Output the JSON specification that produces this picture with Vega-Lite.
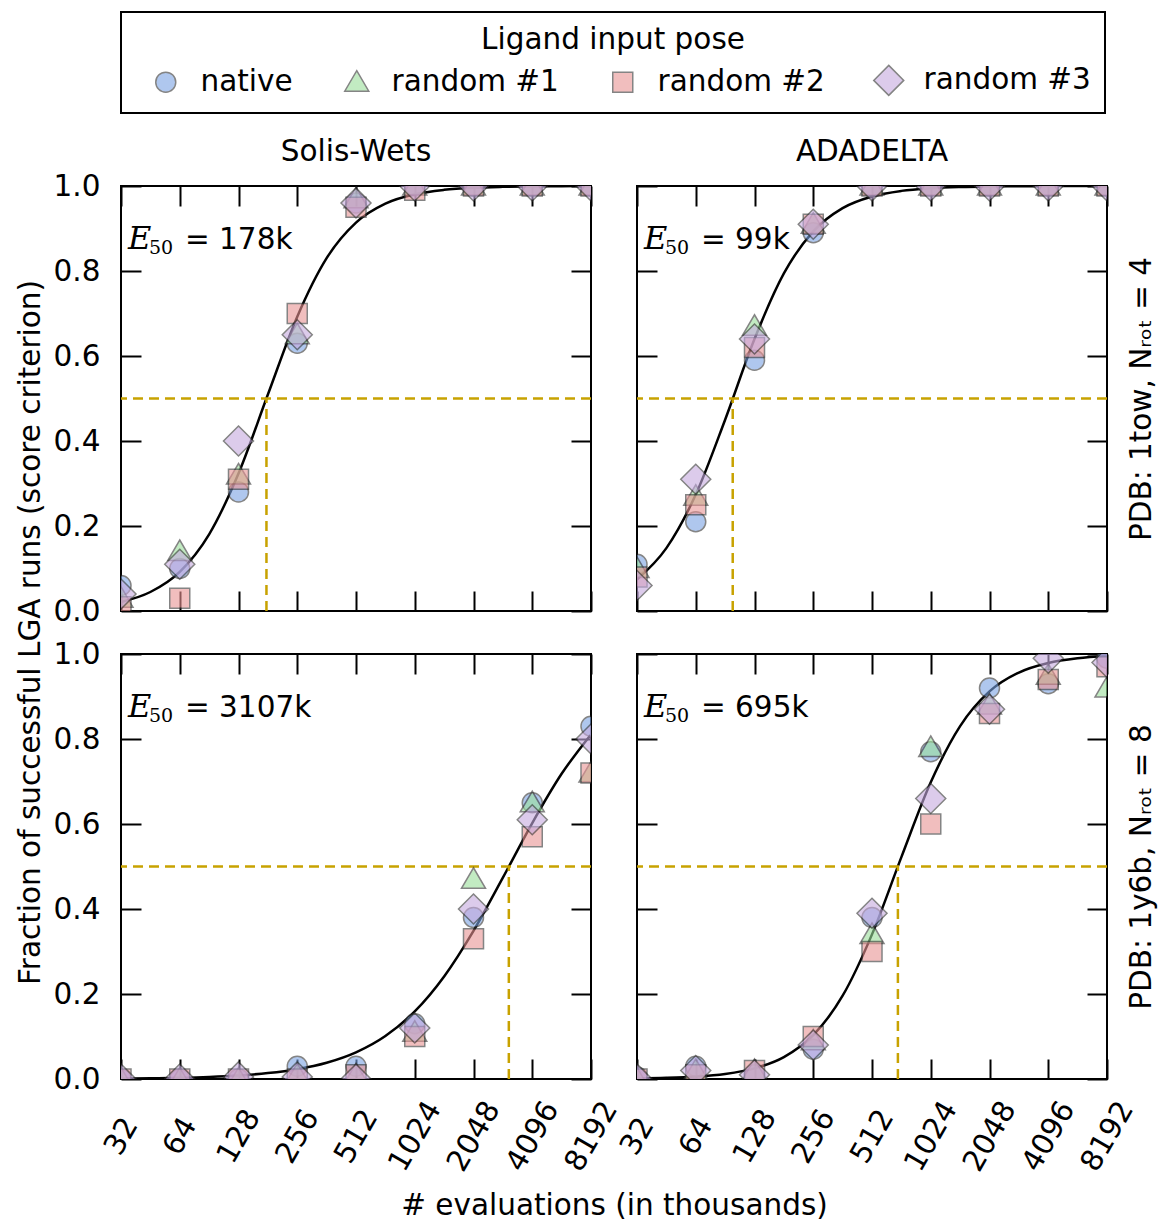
{
  "$schema": "https://vega.github.io/schema/vega-lite/v6.json",
  "autosize": {"type": "pad"},
  "padding": {"left": 14, "top": 11, "right": 4, "bottom": 0},
  "background": "white",
  "config": {
    "font": "DejaVu Sans",
    "view": {"stroke": "black", "strokeWidth": 2},
    "axis": {
      "domain": false, "grid": false, "tickColor": "black", "tickWidth": 2, "tickSize": -20,
      "labelFont": "DejaVu Sans", "labelFontSize": 29.5, "labelColor": "black", "labelPadding": 41,
      "labelFlush": false, "labelOverlap": false,
      "titleFont": "DejaVu Sans", "titleFontSize": 29.5, "titleFontWeight": "normal", "titleColor": "black"
    },
    "title": {"font": "DejaVu Sans", "fontSize": 29.5, "fontWeight": "normal", "color": "black"},
    "legend": {
      "orient": "top", "direction": "horizontal", "titleAnchor": "middle", "titleLimit": 0, "labelLimit": 0,
      "titleFont": "DejaVu Sans", "titleFontSize": 29.5, "titleFontWeight": "normal", "titleColor": "black",
      "labelFont": "DejaVu Sans", "labelFontSize": 29.5, "labelColor": "black",
      "strokeColor": "black", "strokeWidth": 2, "padding": 14, "columnPadding": 33, "labelOffset": 20, "symbolOffset": 16,
      "symbolSize": 400, "symbolOpacity": 0.6, "symbolStrokeColor": "#333333", "symbolStrokeWidth": 1.5,
      "titlePadding": 10, "offset": 22
    }
  },
  "datasets": {
    "pts": [
      {"alg":"Solis-Wets","pdb":"1tow","evals":32,"frac":0.06,"pose":"native"},
      {"alg":"Solis-Wets","pdb":"1tow","evals":32,"frac":0.03,"pose":"random #1"},
      {"alg":"Solis-Wets","pdb":"1tow","evals":32,"frac":0.01,"pose":"random #2"},
      {"alg":"Solis-Wets","pdb":"1tow","evals":32,"frac":0.04,"pose":"random #3"},
      {"alg":"Solis-Wets","pdb":"1tow","evals":64,"frac":0.10,"pose":"native"},
      {"alg":"Solis-Wets","pdb":"1tow","evals":64,"frac":0.14,"pose":"random #1"},
      {"alg":"Solis-Wets","pdb":"1tow","evals":64,"frac":0.03,"pose":"random #2"},
      {"alg":"Solis-Wets","pdb":"1tow","evals":64,"frac":0.11,"pose":"random #3"},
      {"alg":"Solis-Wets","pdb":"1tow","evals":128,"frac":0.28,"pose":"native"},
      {"alg":"Solis-Wets","pdb":"1tow","evals":128,"frac":0.32,"pose":"random #1"},
      {"alg":"Solis-Wets","pdb":"1tow","evals":128,"frac":0.31,"pose":"random #2"},
      {"alg":"Solis-Wets","pdb":"1tow","evals":128,"frac":0.40,"pose":"random #3"},
      {"alg":"Solis-Wets","pdb":"1tow","evals":256,"frac":0.63,"pose":"native"},
      {"alg":"Solis-Wets","pdb":"1tow","evals":256,"frac":0.65,"pose":"random #1"},
      {"alg":"Solis-Wets","pdb":"1tow","evals":256,"frac":0.70,"pose":"random #2"},
      {"alg":"Solis-Wets","pdb":"1tow","evals":256,"frac":0.65,"pose":"random #3"},
      {"alg":"Solis-Wets","pdb":"1tow","evals":512,"frac":0.96,"pose":"native"},
      {"alg":"Solis-Wets","pdb":"1tow","evals":512,"frac":0.97,"pose":"random #1"},
      {"alg":"Solis-Wets","pdb":"1tow","evals":512,"frac":0.95,"pose":"random #2"},
      {"alg":"Solis-Wets","pdb":"1tow","evals":512,"frac":0.96,"pose":"random #3"},
      {"alg":"Solis-Wets","pdb":"1tow","evals":1024,"frac":1.0,"pose":"native"},
      {"alg":"Solis-Wets","pdb":"1tow","evals":1024,"frac":1.0,"pose":"random #1"},
      {"alg":"Solis-Wets","pdb":"1tow","evals":1024,"frac":0.99,"pose":"random #2"},
      {"alg":"Solis-Wets","pdb":"1tow","evals":1024,"frac":1.0,"pose":"random #3"},
      {"alg":"Solis-Wets","pdb":"1tow","evals":2048,"frac":1.0,"pose":"native"},
      {"alg":"Solis-Wets","pdb":"1tow","evals":2048,"frac":1.0,"pose":"random #1"},
      {"alg":"Solis-Wets","pdb":"1tow","evals":2048,"frac":1.0,"pose":"random #2"},
      {"alg":"Solis-Wets","pdb":"1tow","evals":2048,"frac":1.0,"pose":"random #3"},
      {"alg":"Solis-Wets","pdb":"1tow","evals":4096,"frac":1.0,"pose":"native"},
      {"alg":"Solis-Wets","pdb":"1tow","evals":4096,"frac":1.0,"pose":"random #1"},
      {"alg":"Solis-Wets","pdb":"1tow","evals":4096,"frac":1.0,"pose":"random #2"},
      {"alg":"Solis-Wets","pdb":"1tow","evals":4096,"frac":1.0,"pose":"random #3"},
      {"alg":"Solis-Wets","pdb":"1tow","evals":8192,"frac":1.0,"pose":"native"},
      {"alg":"Solis-Wets","pdb":"1tow","evals":8192,"frac":1.0,"pose":"random #1"},
      {"alg":"Solis-Wets","pdb":"1tow","evals":8192,"frac":1.0,"pose":"random #2"},
      {"alg":"Solis-Wets","pdb":"1tow","evals":8192,"frac":1.0,"pose":"random #3"},

      {"alg":"ADADELTA","pdb":"1tow","evals":32,"frac":0.11,"pose":"native"},
      {"alg":"ADADELTA","pdb":"1tow","evals":32,"frac":0.10,"pose":"random #1"},
      {"alg":"ADADELTA","pdb":"1tow","evals":32,"frac":0.08,"pose":"random #2"},
      {"alg":"ADADELTA","pdb":"1tow","evals":32,"frac":0.06,"pose":"random #3"},
      {"alg":"ADADELTA","pdb":"1tow","evals":64,"frac":0.21,"pose":"native"},
      {"alg":"ADADELTA","pdb":"1tow","evals":64,"frac":0.27,"pose":"random #1"},
      {"alg":"ADADELTA","pdb":"1tow","evals":64,"frac":0.25,"pose":"random #2"},
      {"alg":"ADADELTA","pdb":"1tow","evals":64,"frac":0.31,"pose":"random #3"},
      {"alg":"ADADELTA","pdb":"1tow","evals":128,"frac":0.59,"pose":"native"},
      {"alg":"ADADELTA","pdb":"1tow","evals":128,"frac":0.67,"pose":"random #1"},
      {"alg":"ADADELTA","pdb":"1tow","evals":128,"frac":0.62,"pose":"random #2"},
      {"alg":"ADADELTA","pdb":"1tow","evals":128,"frac":0.64,"pose":"random #3"},
      {"alg":"ADADELTA","pdb":"1tow","evals":256,"frac":0.89,"pose":"native"},
      {"alg":"ADADELTA","pdb":"1tow","evals":256,"frac":0.91,"pose":"random #1"},
      {"alg":"ADADELTA","pdb":"1tow","evals":256,"frac":0.91,"pose":"random #2"},
      {"alg":"ADADELTA","pdb":"1tow","evals":256,"frac":0.91,"pose":"random #3"},
      {"alg":"ADADELTA","pdb":"1tow","evals":512,"frac":1.0,"pose":"native"},
      {"alg":"ADADELTA","pdb":"1tow","evals":512,"frac":1.0,"pose":"random #1"},
      {"alg":"ADADELTA","pdb":"1tow","evals":512,"frac":1.0,"pose":"random #2"},
      {"alg":"ADADELTA","pdb":"1tow","evals":512,"frac":1.0,"pose":"random #3"},
      {"alg":"ADADELTA","pdb":"1tow","evals":1024,"frac":1.0,"pose":"native"},
      {"alg":"ADADELTA","pdb":"1tow","evals":1024,"frac":1.0,"pose":"random #1"},
      {"alg":"ADADELTA","pdb":"1tow","evals":1024,"frac":1.0,"pose":"random #2"},
      {"alg":"ADADELTA","pdb":"1tow","evals":1024,"frac":1.0,"pose":"random #3"},
      {"alg":"ADADELTA","pdb":"1tow","evals":2048,"frac":1.0,"pose":"native"},
      {"alg":"ADADELTA","pdb":"1tow","evals":2048,"frac":1.0,"pose":"random #1"},
      {"alg":"ADADELTA","pdb":"1tow","evals":2048,"frac":1.0,"pose":"random #2"},
      {"alg":"ADADELTA","pdb":"1tow","evals":2048,"frac":1.0,"pose":"random #3"},
      {"alg":"ADADELTA","pdb":"1tow","evals":4096,"frac":1.0,"pose":"native"},
      {"alg":"ADADELTA","pdb":"1tow","evals":4096,"frac":1.0,"pose":"random #1"},
      {"alg":"ADADELTA","pdb":"1tow","evals":4096,"frac":1.0,"pose":"random #2"},
      {"alg":"ADADELTA","pdb":"1tow","evals":4096,"frac":1.0,"pose":"random #3"},
      {"alg":"ADADELTA","pdb":"1tow","evals":8192,"frac":1.0,"pose":"native"},
      {"alg":"ADADELTA","pdb":"1tow","evals":8192,"frac":1.0,"pose":"random #1"},
      {"alg":"ADADELTA","pdb":"1tow","evals":8192,"frac":1.0,"pose":"random #2"},
      {"alg":"ADADELTA","pdb":"1tow","evals":8192,"frac":1.0,"pose":"random #3"},

      {"alg":"Solis-Wets","pdb":"1y6b","evals":32,"frac":0.0,"pose":"native"},
      {"alg":"Solis-Wets","pdb":"1y6b","evals":32,"frac":0.0,"pose":"random #1"},
      {"alg":"Solis-Wets","pdb":"1y6b","evals":32,"frac":0.0,"pose":"random #2"},
      {"alg":"Solis-Wets","pdb":"1y6b","evals":32,"frac":0.0,"pose":"random #3"},
      {"alg":"Solis-Wets","pdb":"1y6b","evals":64,"frac":0.0,"pose":"native"},
      {"alg":"Solis-Wets","pdb":"1y6b","evals":64,"frac":0.0,"pose":"random #1"},
      {"alg":"Solis-Wets","pdb":"1y6b","evals":64,"frac":0.0,"pose":"random #2"},
      {"alg":"Solis-Wets","pdb":"1y6b","evals":64,"frac":0.0,"pose":"random #3"},
      {"alg":"Solis-Wets","pdb":"1y6b","evals":128,"frac":0.0,"pose":"native"},
      {"alg":"Solis-Wets","pdb":"1y6b","evals":128,"frac":0.0,"pose":"random #1"},
      {"alg":"Solis-Wets","pdb":"1y6b","evals":128,"frac":0.0,"pose":"random #2"},
      {"alg":"Solis-Wets","pdb":"1y6b","evals":128,"frac":0.005,"pose":"random #3"},
      {"alg":"Solis-Wets","pdb":"1y6b","evals":256,"frac":0.03,"pose":"native"},
      {"alg":"Solis-Wets","pdb":"1y6b","evals":256,"frac":0.01,"pose":"random #1"},
      {"alg":"Solis-Wets","pdb":"1y6b","evals":256,"frac":0.0,"pose":"random #2"},
      {"alg":"Solis-Wets","pdb":"1y6b","evals":256,"frac":0.005,"pose":"random #3"},
      {"alg":"Solis-Wets","pdb":"1y6b","evals":512,"frac":0.03,"pose":"native"},
      {"alg":"Solis-Wets","pdb":"1y6b","evals":512,"frac":0.01,"pose":"random #1"},
      {"alg":"Solis-Wets","pdb":"1y6b","evals":512,"frac":0.01,"pose":"random #2"},
      {"alg":"Solis-Wets","pdb":"1y6b","evals":512,"frac":0.0,"pose":"random #3"},
      {"alg":"Solis-Wets","pdb":"1y6b","evals":1024,"frac":0.13,"pose":"native"},
      {"alg":"Solis-Wets","pdb":"1y6b","evals":1024,"frac":0.11,"pose":"random #1"},
      {"alg":"Solis-Wets","pdb":"1y6b","evals":1024,"frac":0.10,"pose":"random #2"},
      {"alg":"Solis-Wets","pdb":"1y6b","evals":1024,"frac":0.12,"pose":"random #3"},
      {"alg":"Solis-Wets","pdb":"1y6b","evals":2048,"frac":0.38,"pose":"native"},
      {"alg":"Solis-Wets","pdb":"1y6b","evals":2048,"frac":0.47,"pose":"random #1"},
      {"alg":"Solis-Wets","pdb":"1y6b","evals":2048,"frac":0.33,"pose":"random #2"},
      {"alg":"Solis-Wets","pdb":"1y6b","evals":2048,"frac":0.40,"pose":"random #3"},
      {"alg":"Solis-Wets","pdb":"1y6b","evals":4096,"frac":0.65,"pose":"native"},
      {"alg":"Solis-Wets","pdb":"1y6b","evals":4096,"frac":0.65,"pose":"random #1"},
      {"alg":"Solis-Wets","pdb":"1y6b","evals":4096,"frac":0.57,"pose":"random #2"},
      {"alg":"Solis-Wets","pdb":"1y6b","evals":4096,"frac":0.61,"pose":"random #3"},
      {"alg":"Solis-Wets","pdb":"1y6b","evals":8192,"frac":0.83,"pose":"native"},
      {"alg":"Solis-Wets","pdb":"1y6b","evals":8192,"frac":0.72,"pose":"random #1"},
      {"alg":"Solis-Wets","pdb":"1y6b","evals":8192,"frac":0.72,"pose":"random #2"},
      {"alg":"Solis-Wets","pdb":"1y6b","evals":8192,"frac":0.80,"pose":"random #3"},

      {"alg":"ADADELTA","pdb":"1y6b","evals":32,"frac":0.005,"pose":"native"},
      {"alg":"ADADELTA","pdb":"1y6b","evals":32,"frac":0.0,"pose":"random #1"},
      {"alg":"ADADELTA","pdb":"1y6b","evals":32,"frac":0.0,"pose":"random #2"},
      {"alg":"ADADELTA","pdb":"1y6b","evals":32,"frac":0.0,"pose":"random #3"},
      {"alg":"ADADELTA","pdb":"1y6b","evals":64,"frac":0.03,"pose":"native"},
      {"alg":"ADADELTA","pdb":"1y6b","evals":64,"frac":0.02,"pose":"random #1"},
      {"alg":"ADADELTA","pdb":"1y6b","evals":64,"frac":0.01,"pose":"random #2"},
      {"alg":"ADADELTA","pdb":"1y6b","evals":64,"frac":0.02,"pose":"random #3"},
      {"alg":"ADADELTA","pdb":"1y6b","evals":128,"frac":0.01,"pose":"native"},
      {"alg":"ADADELTA","pdb":"1y6b","evals":128,"frac":0.02,"pose":"random #1"},
      {"alg":"ADADELTA","pdb":"1y6b","evals":128,"frac":0.02,"pose":"random #2"},
      {"alg":"ADADELTA","pdb":"1y6b","evals":128,"frac":0.01,"pose":"random #3"},
      {"alg":"ADADELTA","pdb":"1y6b","evals":256,"frac":0.07,"pose":"native"},
      {"alg":"ADADELTA","pdb":"1y6b","evals":256,"frac":0.09,"pose":"random #1"},
      {"alg":"ADADELTA","pdb":"1y6b","evals":256,"frac":0.10,"pose":"random #2"},
      {"alg":"ADADELTA","pdb":"1y6b","evals":256,"frac":0.08,"pose":"random #3"},
      {"alg":"ADADELTA","pdb":"1y6b","evals":512,"frac":0.38,"pose":"native"},
      {"alg":"ADADELTA","pdb":"1y6b","evals":512,"frac":0.34,"pose":"random #1"},
      {"alg":"ADADELTA","pdb":"1y6b","evals":512,"frac":0.30,"pose":"random #2"},
      {"alg":"ADADELTA","pdb":"1y6b","evals":512,"frac":0.39,"pose":"random #3"},
      {"alg":"ADADELTA","pdb":"1y6b","evals":1024,"frac":0.77,"pose":"native"},
      {"alg":"ADADELTA","pdb":"1y6b","evals":1024,"frac":0.78,"pose":"random #1"},
      {"alg":"ADADELTA","pdb":"1y6b","evals":1024,"frac":0.60,"pose":"random #2"},
      {"alg":"ADADELTA","pdb":"1y6b","evals":1024,"frac":0.66,"pose":"random #3"},
      {"alg":"ADADELTA","pdb":"1y6b","evals":2048,"frac":0.92,"pose":"native"},
      {"alg":"ADADELTA","pdb":"1y6b","evals":2048,"frac":0.88,"pose":"random #1"},
      {"alg":"ADADELTA","pdb":"1y6b","evals":2048,"frac":0.86,"pose":"random #2"},
      {"alg":"ADADELTA","pdb":"1y6b","evals":2048,"frac":0.87,"pose":"random #3"},
      {"alg":"ADADELTA","pdb":"1y6b","evals":4096,"frac":0.93,"pose":"native"},
      {"alg":"ADADELTA","pdb":"1y6b","evals":4096,"frac":0.95,"pose":"random #1"},
      {"alg":"ADADELTA","pdb":"1y6b","evals":4096,"frac":0.94,"pose":"random #2"},
      {"alg":"ADADELTA","pdb":"1y6b","evals":4096,"frac":0.99,"pose":"random #3"},
      {"alg":"ADADELTA","pdb":"1y6b","evals":8192,"frac":0.99,"pose":"native"},
      {"alg":"ADADELTA","pdb":"1y6b","evals":8192,"frac":0.92,"pose":"random #1"},
      {"alg":"ADADELTA","pdb":"1y6b","evals":8192,"frac":0.97,"pose":"random #2"},
      {"alg":"ADADELTA","pdb":"1y6b","evals":8192,"frac":0.98,"pose":"random #3"}
    ],
    "curve": [
      {"alg":"Solis-Wets","pdb":"1tow","evals":32,"frac":0.0211},
      {"alg":"Solis-Wets","pdb":"1tow","evals":45.25,"frac":0.0447},
      {"alg":"Solis-Wets","pdb":"1tow","evals":64,"frac":0.0921},
      {"alg":"Solis-Wets","pdb":"1tow","evals":90.51,"frac":0.1805},
      {"alg":"Solis-Wets","pdb":"1tow","evals":128,"frac":0.3234},
      {"alg":"Solis-Wets","pdb":"1tow","evals":181.02,"frac":0.5093},
      {"alg":"Solis-Wets","pdb":"1tow","evals":256,"frac":0.6925},
      {"alg":"Solis-Wets","pdb":"1tow","evals":362.04,"frac":0.8302},
      {"alg":"Solis-Wets","pdb":"1tow","evals":512,"frac":0.9139},
      {"alg":"Solis-Wets","pdb":"1tow","evals":724.08,"frac":0.9584},
      {"alg":"Solis-Wets","pdb":"1tow","evals":1024,"frac":0.9804},
      {"alg":"Solis-Wets","pdb":"1tow","evals":1448.15,"frac":0.9909},
      {"alg":"Solis-Wets","pdb":"1tow","evals":2048,"frac":0.9958},
      {"alg":"Solis-Wets","pdb":"1tow","evals":2896.31,"frac":0.9980},
      {"alg":"Solis-Wets","pdb":"1tow","evals":4096,"frac":0.9991},
      {"alg":"Solis-Wets","pdb":"1tow","evals":5792.62,"frac":0.9996},
      {"alg":"Solis-Wets","pdb":"1tow","evals":8192,"frac":0.9998},
      {"alg":"ADADELTA","pdb":"1tow","evals":32,"frac":0.0741},
      {"alg":"ADADELTA","pdb":"1tow","evals":45.25,"frac":0.1480},
      {"alg":"ADADELTA","pdb":"1tow","evals":64,"frac":0.2739},
      {"alg":"ADADELTA","pdb":"1tow","evals":90.51,"frac":0.4501},
      {"alg":"ADADELTA","pdb":"1tow","evals":128,"frac":0.6399},
      {"alg":"ADADELTA","pdb":"1tow","evals":181.02,"frac":0.7942},
      {"alg":"ADADELTA","pdb":"1tow","evals":256,"frac":0.8933},
      {"alg":"ADADELTA","pdb":"1tow","evals":362.04,"frac":0.9479},
      {"alg":"ADADELTA","pdb":"1tow","evals":512,"frac":0.9753},
      {"alg":"ADADELTA","pdb":"1tow","evals":724.08,"frac":0.9885},
      {"alg":"ADADELTA","pdb":"1tow","evals":1024,"frac":0.9946},
      {"alg":"ADADELTA","pdb":"1tow","evals":1448.15,"frac":0.9975},
      {"alg":"ADADELTA","pdb":"1tow","evals":2048,"frac":0.9989},
      {"alg":"ADADELTA","pdb":"1tow","evals":2896.31,"frac":0.9995},
      {"alg":"ADADELTA","pdb":"1tow","evals":4096,"frac":0.9998},
      {"alg":"ADADELTA","pdb":"1tow","evals":5792.62,"frac":0.9999},
      {"alg":"ADADELTA","pdb":"1tow","evals":8192,"frac":1.0},
      {"alg":"Solis-Wets","pdb":"1y6b","evals":32,"frac":0.00104},
      {"alg":"Solis-Wets","pdb":"1y6b","evals":45.25,"frac":0.00175},
      {"alg":"Solis-Wets","pdb":"1y6b","evals":64,"frac":0.00294},
      {"alg":"Solis-Wets","pdb":"1y6b","evals":90.51,"frac":0.00494},
      {"alg":"Solis-Wets","pdb":"1y6b","evals":128,"frac":0.00828},
      {"alg":"Solis-Wets","pdb":"1y6b","evals":181.02,"frac":0.01386},
      {"alg":"Solis-Wets","pdb":"1y6b","evals":256,"frac":0.02309},
      {"alg":"Solis-Wets","pdb":"1y6b","evals":362.04,"frac":0.03824},
      {"alg":"Solis-Wets","pdb":"1y6b","evals":512,"frac":0.0627},
      {"alg":"Solis-Wets","pdb":"1y6b","evals":724.08,"frac":0.1011},
      {"alg":"Solis-Wets","pdb":"1y6b","evals":1024,"frac":0.1591},
      {"alg":"Solis-Wets","pdb":"1y6b","evals":1448.15,"frac":0.2414},
      {"alg":"Solis-Wets","pdb":"1y6b","evals":2048,"frac":0.3487},
      {"alg":"Solis-Wets","pdb":"1y6b","evals":2896.31,"frac":0.4737},
      {"alg":"Solis-Wets","pdb":"1y6b","evals":4096,"frac":0.6023},
      {"alg":"Solis-Wets","pdb":"1y6b","evals":5792.62,"frac":0.7181},
      {"alg":"Solis-Wets","pdb":"1y6b","evals":8192,"frac":0.8108},
      {"alg":"ADADELTA","pdb":"1y6b","evals":32,"frac":0.00128},
      {"alg":"ADADELTA","pdb":"1y6b","evals":45.25,"frac":0.0027},
      {"alg":"ADADELTA","pdb":"1y6b","evals":64,"frac":0.0057},
      {"alg":"ADADELTA","pdb":"1y6b","evals":90.51,"frac":0.01199},
      {"alg":"ADADELTA","pdb":"1y6b","evals":128,"frac":0.02504},
      {"alg":"ADADELTA","pdb":"1y6b","evals":181.02,"frac":0.0516},
      {"alg":"ADADELTA","pdb":"1y6b","evals":256,"frac":0.1032},
      {"alg":"ADADELTA","pdb":"1y6b","evals":362.04,"frac":0.1959},
      {"alg":"ADADELTA","pdb":"1y6b","evals":512,"frac":0.3403},
      {"alg":"ADADELTA","pdb":"1y6b","evals":724.08,"frac":0.5221},
      {"alg":"ADADELTA","pdb":"1y6b","evals":1024,"frac":0.6981},
      {"alg":"ADADELTA","pdb":"1y6b","evals":1448.15,"frac":0.8304},
      {"alg":"ADADELTA","pdb":"1y6b","evals":2048,"frac":0.9120},
      {"alg":"ADADELTA","pdb":"1y6b","evals":2896.31,"frac":0.9564},
      {"alg":"ADADELTA","pdb":"1y6b","evals":4096,"frac":0.9789},
      {"alg":"ADADELTA","pdb":"1y6b","evals":5792.62,"frac":0.9899},
      {"alg":"ADADELTA","pdb":"1y6b","evals":8192,"frac":0.9952}
    ],
    "e50": [
      {"alg":"Solis-Wets","pdb":"1tow","evals":178,"label":"= 178k"},
      {"alg":"ADADELTA","pdb":"1tow","evals":99,"label":"= 99k"},
      {"alg":"Solis-Wets","pdb":"1y6b","evals":3107,"label":"= 3107k"},
      {"alg":"ADADELTA","pdb":"1y6b","evals":695,"label":"= 695k"}
    ]
  },
  "bounds": "flush",
  "columns": 2,
  "spacing": {"row": 43, "column": 46},
  "concat": [
    {
      "width": 470, "height": 425,
      "title": {"text": "Solis-Wets", "offset": 4},
      "resolve": {"axis": {"x": "independent", "y": "independent"}},
      "layer": [
        {
          "data": {"name": "curve"},
          "transform": [{"filter": "datum.alg === 'Solis-Wets' && datum.pdb === '1tow'"}],
          "mark": {"type": "line", "color": "black", "strokeWidth": 2.5, "interpolate": "monotone", "clip": true},
          "encoding": {
            "x": {"field": "evals", "type": "quantitative", "scale": {"type": "log", "base": 2, "domain": [32, 8192], "nice": false},
                  "axis": {"orient": "bottom", "values": [32,64,128,256,512,1024,2048,4096,8192], "labels": false, "title": null}},
            "y": {"field": "frac", "type": "quantitative", "scale": {"domain": [0, 1], "nice": false},
                  "axis": {"orient": "left", "values": [0,0.2,0.4,0.6,0.8,1], "format": ".1f", "title": "Fraction of successful LGA runs (score criterion)", "titleY": 446, "titlePadding": 8}}
          }
        },
        {
          "data": {"name": "e50"},
          "transform": [{"filter": "datum.alg === 'Solis-Wets' && datum.pdb === '1tow'"}],
          "mark": {"type": "rule", "color": "#c8a200", "strokeWidth": 2.5, "strokeDash": [10, 6]},
          "encoding": {
            "y": {"datum": 0.5, "type": "quantitative", "axis": {"orient": "right", "values": [0,0.2,0.4,0.6,0.8,1], "labels": false, "title": null}}
          }
        },
        {
          "data": {"name": "e50"},
          "transform": [{"filter": "datum.alg === 'Solis-Wets' && datum.pdb === '1tow'"}],
          "mark": {"type": "rule", "color": "#c8a200", "strokeWidth": 2.5, "strokeDash": [10, 6]},
          "encoding": {
            "x": {"field": "evals", "type": "quantitative", "axis": {"orient": "top", "values": [32,64,128,256,512,1024,2048,4096,8192], "labels": false, "title": null}},
            "y": {"datum": 0, "type": "quantitative", "axis": null},
            "y2": {"datum": 0.5}
          }
        },
        {
          "data": {"name": "pts"},
          "transform": [{"filter": "datum.alg === 'Solis-Wets' && datum.pdb === '1tow'"}],
          "mark": {"type": "point", "filled": true, "size": 400, "stroke": "#333333", "strokeWidth": 1.5, "opacity": 0.6, "clip": true},
          "encoding": {
            "x": {"field": "evals", "type": "quantitative", "axis": null},
            "y": {"field": "frac", "type": "quantitative", "axis": null},
            "fill": {"field": "pose", "type": "nominal", "title": "Ligand input pose",
                     "scale": {"domain": ["native", "random #1", "random #2", "random #3"], "range": ["#7ba3e3", "#9bdf9b", "#e99393", "#c5aadf"]},
                     "legend": {"encode": {"symbols": {"update": {"stroke": {"value": "#333333"}, "strokeWidth": {"value": 1.5}, "opacity": {"value": 0.6}}}}}},
            "shape": {"field": "pose", "type": "nominal", "title": "Ligand input pose",
                      "scale": {"domain": ["native", "random #1", "random #2", "random #3"], "range": ["circle", "M0,-1.15L1.2,0.9L-1.2,0.9Z", "square", "M0,-1.5L1.5,0L0,1.5L-1.5,0Z"]}}
          }
        },
        {
          "data": {"name": "e50"},
          "transform": [{"filter": "datum.alg === 'Solis-Wets' && datum.pdb === '1tow'"}],
          "mark": {"type": "text", "text": "E", "font": "DejaVu Serif", "fontStyle": "italic", "fontSize": 32, "align": "left", "baseline": "alphabetic", "dx": 7, "color": "black"},
          "encoding": {"x": {"datum": 32, "type": "quantitative", "axis": null}, "y": {"datum": 0.852, "type": "quantitative", "axis": null}}
        },
        {
          "data": {"name": "e50"},
          "transform": [{"filter": "datum.alg === 'Solis-Wets' && datum.pdb === '1tow'"}],
          "mark": {"type": "text", "text": "50", "font": "DejaVu Serif", "fontSize": 19, "align": "left", "baseline": "alphabetic", "dx": 28, "dy": 5, "color": "black"},
          "encoding": {"x": {"datum": 32, "type": "quantitative", "axis": null}, "y": {"datum": 0.852, "type": "quantitative", "axis": null}}
        },
        {
          "data": {"name": "e50"},
          "transform": [{"filter": "datum.alg === 'Solis-Wets' && datum.pdb === '1tow'"}],
          "mark": {"type": "text", "font": "DejaVu Sans", "fontSize": 29.5, "align": "left", "baseline": "alphabetic", "dx": 64, "color": "black"},
          "encoding": {"x": {"datum": 32, "type": "quantitative", "axis": null}, "y": {"datum": 0.852, "type": "quantitative", "axis": null}, "text": {"field": "label"}}
        }
      ]
    },
    {
      "width": 470, "height": 425,
      "title": {"text": "ADADELTA", "offset": 18},
      "resolve": {"axis": {"x": "independent", "y": "independent"}},
      "layer": [
        {
          "data": {"name": "curve"},
          "transform": [{"filter": "datum.alg === 'ADADELTA' && datum.pdb === '1tow'"}],
          "mark": {"type": "line", "color": "black", "strokeWidth": 2.5, "interpolate": "monotone", "clip": true},
          "encoding": {
            "x": {"field": "evals", "type": "quantitative", "scale": {"type": "log", "base": 2, "domain": [32, 8192], "nice": false},
                  "axis": {"orient": "bottom", "values": [32,64,128,256,512,1024,2048,4096,8192], "labels": false, "title": null}},
            "y": {"field": "frac", "type": "quantitative", "scale": {"domain": [0, 1], "nice": false},
                  "axis": {"orient": "left", "values": [0,0.2,0.4,0.6,0.8,1], "labels": false, "title": null}}
          }
        },
        {
          "data": {"name": "e50"},
          "transform": [{"filter": "datum.alg === 'ADADELTA' && datum.pdb === '1tow'"}],
          "mark": {"type": "rule", "color": "#c8a200", "strokeWidth": 2.5, "strokeDash": [10, 6]},
          "encoding": {
            "y": {"datum": 0.5, "type": "quantitative", "axis": {"orient": "right", "values": [0,0.2,0.4,0.6,0.8,1], "labels": false, "title": "PDB: 1tow, Nᵣₒₜ = 4", "titleAngle": 270, "titlePadding": 48}}
          }
        },
        {
          "data": {"name": "e50"},
          "transform": [{"filter": "datum.alg === 'ADADELTA' && datum.pdb === '1tow'"}],
          "mark": {"type": "rule", "color": "#c8a200", "strokeWidth": 2.5, "strokeDash": [10, 6]},
          "encoding": {
            "x": {"field": "evals", "type": "quantitative", "axis": {"orient": "top", "values": [32,64,128,256,512,1024,2048,4096,8192], "labels": false, "title": null}},
            "y": {"datum": 0, "type": "quantitative", "axis": null},
            "y2": {"datum": 0.5}
          }
        },
        {
          "data": {"name": "pts"},
          "transform": [{"filter": "datum.alg === 'ADADELTA' && datum.pdb === '1tow'"}],
          "mark": {"type": "point", "filled": true, "size": 400, "stroke": "#333333", "strokeWidth": 1.5, "opacity": 0.6, "clip": true},
          "encoding": {
            "x": {"field": "evals", "type": "quantitative", "axis": null},
            "y": {"field": "frac", "type": "quantitative", "axis": null},
            "fill": {"field": "pose", "type": "nominal", "title": "Ligand input pose",
                     "scale": {"domain": ["native", "random #1", "random #2", "random #3"], "range": ["#7ba3e3", "#9bdf9b", "#e99393", "#c5aadf"]}},
            "shape": {"field": "pose", "type": "nominal", "title": "Ligand input pose",
                      "scale": {"domain": ["native", "random #1", "random #2", "random #3"], "range": ["circle", "M0,-1.15L1.2,0.9L-1.2,0.9Z", "square", "M0,-1.5L1.5,0L0,1.5L-1.5,0Z"]}}
          }
        },
        {
          "data": {"name": "e50"},
          "transform": [{"filter": "datum.alg === 'ADADELTA' && datum.pdb === '1tow'"}],
          "mark": {"type": "text", "text": "E", "font": "DejaVu Serif", "fontStyle": "italic", "fontSize": 32, "align": "left", "baseline": "alphabetic", "dx": 7, "color": "black"},
          "encoding": {"x": {"datum": 32, "type": "quantitative", "axis": null}, "y": {"datum": 0.852, "type": "quantitative", "axis": null}}
        },
        {
          "data": {"name": "e50"},
          "transform": [{"filter": "datum.alg === 'ADADELTA' && datum.pdb === '1tow'"}],
          "mark": {"type": "text", "text": "50", "font": "DejaVu Serif", "fontSize": 19, "align": "left", "baseline": "alphabetic", "dx": 28, "dy": 5, "color": "black"},
          "encoding": {"x": {"datum": 32, "type": "quantitative", "axis": null}, "y": {"datum": 0.852, "type": "quantitative", "axis": null}}
        },
        {
          "data": {"name": "e50"},
          "transform": [{"filter": "datum.alg === 'ADADELTA' && datum.pdb === '1tow'"}],
          "mark": {"type": "text", "font": "DejaVu Sans", "fontSize": 29.5, "align": "left", "baseline": "alphabetic", "dx": 64, "color": "black"},
          "encoding": {"x": {"datum": 32, "type": "quantitative", "axis": null}, "y": {"datum": 0.852, "type": "quantitative", "axis": null}, "text": {"field": "label"}}
        }
      ]
    },
    {
      "width": 470, "height": 425,
      "resolve": {"axis": {"x": "independent", "y": "independent"}},
      "layer": [
        {
          "data": {"name": "curve"},
          "transform": [{"filter": "datum.alg === 'Solis-Wets' && datum.pdb === '1y6b'"}],
          "mark": {"type": "line", "color": "black", "strokeWidth": 2.5, "interpolate": "monotone", "clip": true},
          "encoding": {
            "x": {"field": "evals", "type": "quantitative", "scale": {"type": "log", "base": 2, "domain": [32, 8192], "nice": false},
                  "axis": {"orient": "bottom", "values": [32,64,128,256,512,1024,2048,4096,8192], "format": "d", "labelAngle": -60, "labelAlign": "center", "labelBaseline": "middle", "labelPadding": 77, "title": "# evaluations (in thousands)", "titleX": 493, "titlePadding": 16}},
            "y": {"field": "frac", "type": "quantitative", "scale": {"domain": [0, 1], "nice": false},
                  "axis": {"orient": "left", "values": [0,0.2,0.4,0.6,0.8,1], "format": ".1f", "title": null}}
          }
        },
        {
          "data": {"name": "e50"},
          "transform": [{"filter": "datum.alg === 'Solis-Wets' && datum.pdb === '1y6b'"}],
          "mark": {"type": "rule", "color": "#c8a200", "strokeWidth": 2.5, "strokeDash": [10, 6]},
          "encoding": {
            "y": {"datum": 0.5, "type": "quantitative", "axis": {"orient": "right", "values": [0,0.2,0.4,0.6,0.8,1], "labels": false, "title": null}}
          }
        },
        {
          "data": {"name": "e50"},
          "transform": [{"filter": "datum.alg === 'Solis-Wets' && datum.pdb === '1y6b'"}],
          "mark": {"type": "rule", "color": "#c8a200", "strokeWidth": 2.5, "strokeDash": [10, 6]},
          "encoding": {
            "x": {"field": "evals", "type": "quantitative", "axis": {"orient": "top", "values": [32,64,128,256,512,1024,2048,4096,8192], "labels": false, "title": null}},
            "y": {"datum": 0, "type": "quantitative", "axis": null},
            "y2": {"datum": 0.5}
          }
        },
        {
          "data": {"name": "pts"},
          "transform": [{"filter": "datum.alg === 'Solis-Wets' && datum.pdb === '1y6b'"}],
          "mark": {"type": "point", "filled": true, "size": 400, "stroke": "#333333", "strokeWidth": 1.5, "opacity": 0.6, "clip": true},
          "encoding": {
            "x": {"field": "evals", "type": "quantitative", "axis": null},
            "y": {"field": "frac", "type": "quantitative", "axis": null},
            "fill": {"field": "pose", "type": "nominal", "title": "Ligand input pose",
                     "scale": {"domain": ["native", "random #1", "random #2", "random #3"], "range": ["#7ba3e3", "#9bdf9b", "#e99393", "#c5aadf"]}},
            "shape": {"field": "pose", "type": "nominal", "title": "Ligand input pose",
                      "scale": {"domain": ["native", "random #1", "random #2", "random #3"], "range": ["circle", "M0,-1.15L1.2,0.9L-1.2,0.9Z", "square", "M0,-1.5L1.5,0L0,1.5L-1.5,0Z"]}}
          }
        },
        {
          "data": {"name": "e50"},
          "transform": [{"filter": "datum.alg === 'Solis-Wets' && datum.pdb === '1y6b'"}],
          "mark": {"type": "text", "text": "E", "font": "DejaVu Serif", "fontStyle": "italic", "fontSize": 32, "align": "left", "baseline": "alphabetic", "dx": 7, "color": "black"},
          "encoding": {"x": {"datum": 32, "type": "quantitative", "axis": null}, "y": {"datum": 0.852, "type": "quantitative", "axis": null}}
        },
        {
          "data": {"name": "e50"},
          "transform": [{"filter": "datum.alg === 'Solis-Wets' && datum.pdb === '1y6b'"}],
          "mark": {"type": "text", "text": "50", "font": "DejaVu Serif", "fontSize": 19, "align": "left", "baseline": "alphabetic", "dx": 28, "dy": 5, "color": "black"},
          "encoding": {"x": {"datum": 32, "type": "quantitative", "axis": null}, "y": {"datum": 0.852, "type": "quantitative", "axis": null}}
        },
        {
          "data": {"name": "e50"},
          "transform": [{"filter": "datum.alg === 'Solis-Wets' && datum.pdb === '1y6b'"}],
          "mark": {"type": "text", "font": "DejaVu Sans", "fontSize": 29.5, "align": "left", "baseline": "alphabetic", "dx": 64, "color": "black"},
          "encoding": {"x": {"datum": 32, "type": "quantitative", "axis": null}, "y": {"datum": 0.852, "type": "quantitative", "axis": null}, "text": {"field": "label"}}
        }
      ]
    },
    {
      "width": 470, "height": 425,
      "resolve": {"axis": {"x": "independent", "y": "independent"}},
      "layer": [
        {
          "data": {"name": "curve"},
          "transform": [{"filter": "datum.alg === 'ADADELTA' && datum.pdb === '1y6b'"}],
          "mark": {"type": "line", "color": "black", "strokeWidth": 2.5, "interpolate": "monotone", "clip": true},
          "encoding": {
            "x": {"field": "evals", "type": "quantitative", "scale": {"type": "log", "base": 2, "domain": [32, 8192], "nice": false},
                  "axis": {"orient": "bottom", "values": [32,64,128,256,512,1024,2048,4096,8192], "format": "d", "labelAngle": -60, "labelAlign": "center", "labelBaseline": "middle", "labelPadding": 77, "title": null}},
            "y": {"field": "frac", "type": "quantitative", "scale": {"domain": [0, 1], "nice": false},
                  "axis": {"orient": "left", "values": [0,0.2,0.4,0.6,0.8,1], "labels": false, "title": null}}
          }
        },
        {
          "data": {"name": "e50"},
          "transform": [{"filter": "datum.alg === 'ADADELTA' && datum.pdb === '1y6b'"}],
          "mark": {"type": "rule", "color": "#c8a200", "strokeWidth": 2.5, "strokeDash": [10, 6]},
          "encoding": {
            "y": {"datum": 0.5, "type": "quantitative", "axis": {"orient": "right", "values": [0,0.2,0.4,0.6,0.8,1], "labels": false, "title": "PDB: 1y6b, Nᵣₒₜ = 8", "titleAngle": 270, "titlePadding": 48}}
          }
        },
        {
          "data": {"name": "e50"},
          "transform": [{"filter": "datum.alg === 'ADADELTA' && datum.pdb === '1y6b'"}],
          "mark": {"type": "rule", "color": "#c8a200", "strokeWidth": 2.5, "strokeDash": [10, 6]},
          "encoding": {
            "x": {"field": "evals", "type": "quantitative", "axis": {"orient": "top", "values": [32,64,128,256,512,1024,2048,4096,8192], "labels": false, "title": null}},
            "y": {"datum": 0, "type": "quantitative", "axis": null},
            "y2": {"datum": 0.5}
          }
        },
        {
          "data": {"name": "pts"},
          "transform": [{"filter": "datum.alg === 'ADADELTA' && datum.pdb === '1y6b'"}],
          "mark": {"type": "point", "filled": true, "size": 400, "stroke": "#333333", "strokeWidth": 1.5, "opacity": 0.6, "clip": true},
          "encoding": {
            "x": {"field": "evals", "type": "quantitative", "axis": null},
            "y": {"field": "frac", "type": "quantitative", "axis": null},
            "fill": {"field": "pose", "type": "nominal", "title": "Ligand input pose",
                     "scale": {"domain": ["native", "random #1", "random #2", "random #3"], "range": ["#7ba3e3", "#9bdf9b", "#e99393", "#c5aadf"]}},
            "shape": {"field": "pose", "type": "nominal", "title": "Ligand input pose",
                      "scale": {"domain": ["native", "random #1", "random #2", "random #3"], "range": ["circle", "M0,-1.15L1.2,0.9L-1.2,0.9Z", "square", "M0,-1.5L1.5,0L0,1.5L-1.5,0Z"]}}
          }
        },
        {
          "data": {"name": "e50"},
          "transform": [{"filter": "datum.alg === 'ADADELTA' && datum.pdb === '1y6b'"}],
          "mark": {"type": "text", "text": "E", "font": "DejaVu Serif", "fontStyle": "italic", "fontSize": 32, "align": "left", "baseline": "alphabetic", "dx": 7, "color": "black"},
          "encoding": {"x": {"datum": 32, "type": "quantitative", "axis": null}, "y": {"datum": 0.852, "type": "quantitative", "axis": null}}
        },
        {
          "data": {"name": "e50"},
          "transform": [{"filter": "datum.alg === 'ADADELTA' && datum.pdb === '1y6b'"}],
          "mark": {"type": "text", "text": "50", "font": "DejaVu Serif", "fontSize": 19, "align": "left", "baseline": "alphabetic", "dx": 28, "dy": 5, "color": "black"},
          "encoding": {"x": {"datum": 32, "type": "quantitative", "axis": null}, "y": {"datum": 0.852, "type": "quantitative", "axis": null}}
        },
        {
          "data": {"name": "e50"},
          "transform": [{"filter": "datum.alg === 'ADADELTA' && datum.pdb === '1y6b'"}],
          "mark": {"type": "text", "font": "DejaVu Sans", "fontSize": 29.5, "align": "left", "baseline": "alphabetic", "dx": 64, "color": "black"},
          "encoding": {"x": {"datum": 32, "type": "quantitative", "axis": null}, "y": {"datum": 0.852, "type": "quantitative", "axis": null}, "text": {"field": "label"}}
        }
      ]
    }
  ]
}
